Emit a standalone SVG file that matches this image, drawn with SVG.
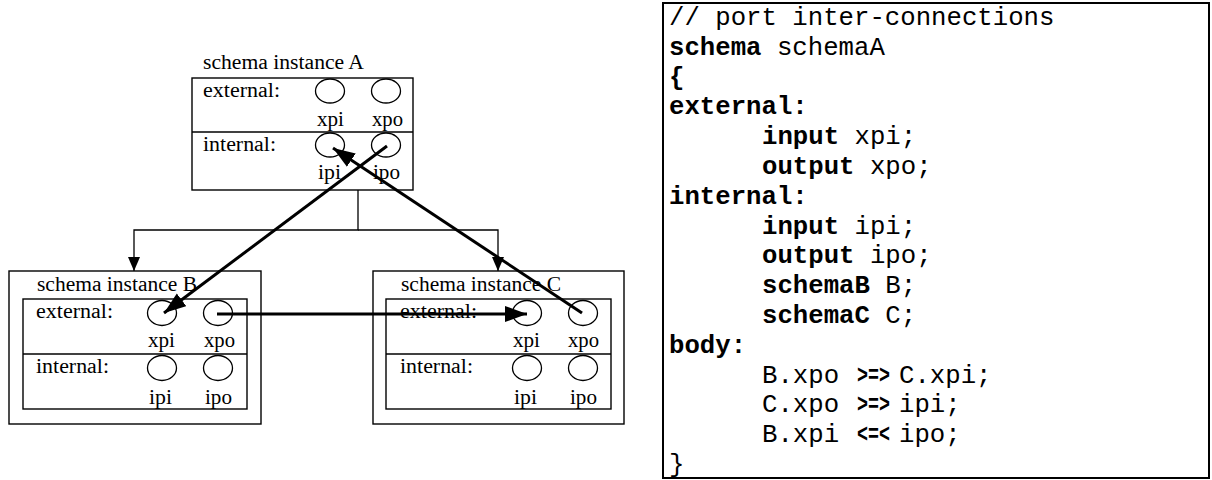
<svg xmlns="http://www.w3.org/2000/svg" width="1212" height="480" viewBox="0 0 1212 480">
<style>
.box{fill:none;stroke:#000;stroke-width:1.4}
.port{fill:none;stroke:#000;stroke-width:1.3}
.lbl{font-family:"Liberation Serif","Times New Roman",serif;font-size:20px;fill:#000}
.thin{fill:none;stroke:#000;stroke-width:1.3}
.thick{fill:none;stroke:#000;stroke-width:3}
.code{font-family:"Liberation Mono","Courier New",monospace;font-size:25.7px;fill:#000;white-space:pre}
.b{font-weight:bold}
</style>
<defs>
<marker id="ah" markerUnits="userSpaceOnUse" markerWidth="14" markerHeight="12" refX="14" refY="6" orient="auto">
<path d="M0,0 L14,6 L0,12 z" fill="#000"/>
</marker>
<marker id="ahT" markerUnits="userSpaceOnUse" markerWidth="24" markerHeight="18" refX="22" refY="8" orient="auto">
<path d="M0,0 L22,8 L0,16 z" fill="#000"/>
</marker>
</defs>
<rect width="1212" height="480" fill="#fff"/>

<g id="nodeA">
<text class="lbl" x="203" y="69" textLength="161" lengthAdjust="spacingAndGlyphs">schema instance A</text>
<rect class="box" x="192" y="78" width="221" height="112"/>
<line class="box" x1="192" y1="132" x2="413" y2="132"/>
<text class="lbl" x="203" y="97" textLength="77" lengthAdjust="spacingAndGlyphs">external:</text>
<ellipse class="port" cx="330" cy="91" rx="14.5" ry="12"/>
<ellipse class="port" cx="386" cy="91" rx="14.5" ry="12"/>
<text class="lbl" x="317" y="126" textLength="27" lengthAdjust="spacingAndGlyphs">xpi</text>
<text class="lbl" x="372" y="126" textLength="31" lengthAdjust="spacingAndGlyphs">xpo</text>
<text class="lbl" x="203" y="151" textLength="73" lengthAdjust="spacingAndGlyphs">internal:</text>
<ellipse class="port" cx="330" cy="145" rx="14.5" ry="12"/>
<ellipse class="port" cx="386" cy="145" rx="14.5" ry="12"/>
<text class="lbl" x="318" y="179" textLength="23" lengthAdjust="spacingAndGlyphs">ipi</text>
<text class="lbl" x="373" y="179" textLength="27" lengthAdjust="spacingAndGlyphs">ipo</text>
</g>

<g id="nodeB">
<rect class="box" x="9" y="271" width="252" height="153"/>
<text class="lbl" x="37" y="291" textLength="160" lengthAdjust="spacingAndGlyphs">schema instance B</text>
<rect class="box" x="23" y="299" width="224" height="110"/>
<line class="box" x1="23" y1="354" x2="247" y2="354"/>
<text class="lbl" x="36" y="318" textLength="77" lengthAdjust="spacingAndGlyphs">external:</text>
<ellipse class="port" cx="162" cy="313" rx="14.5" ry="12.5"/>
<ellipse class="port" cx="218" cy="313" rx="14.5" ry="12.5"/>
<text class="lbl" x="148" y="347" textLength="27" lengthAdjust="spacingAndGlyphs">xpi</text>
<text class="lbl" x="204" y="347" textLength="31" lengthAdjust="spacingAndGlyphs">xpo</text>
<text class="lbl" x="36" y="373" textLength="73" lengthAdjust="spacingAndGlyphs">internal:</text>
<ellipse class="port" cx="162" cy="368" rx="14.5" ry="12.5"/>
<ellipse class="port" cx="218" cy="368" rx="14.5" ry="12.5"/>
<text class="lbl" x="149" y="404" textLength="23" lengthAdjust="spacingAndGlyphs">ipi</text>
<text class="lbl" x="205" y="404" textLength="27" lengthAdjust="spacingAndGlyphs">ipo</text>
</g>

<g id="nodeC">
<rect class="box" x="373" y="271" width="251" height="153"/>
<text class="lbl" x="401" y="291" textLength="160" lengthAdjust="spacingAndGlyphs">schema instance C</text>
<rect class="box" x="386" y="299" width="225" height="110"/>
<line class="box" x1="386" y1="354" x2="611" y2="354"/>
<text class="lbl" x="400" y="318" textLength="77" lengthAdjust="spacingAndGlyphs">external:</text>
<ellipse class="port" cx="527" cy="313" rx="14.5" ry="12.5"/>
<ellipse class="port" cx="583" cy="313" rx="14.5" ry="12.5"/>
<text class="lbl" x="513" y="347" textLength="27" lengthAdjust="spacingAndGlyphs">xpi</text>
<text class="lbl" x="568" y="347" textLength="31" lengthAdjust="spacingAndGlyphs">xpo</text>
<text class="lbl" x="400" y="373" textLength="73" lengthAdjust="spacingAndGlyphs">internal:</text>
<ellipse class="port" cx="527" cy="368" rx="14.5" ry="12.5"/>
<ellipse class="port" cx="583" cy="368" rx="14.5" ry="12.5"/>
<text class="lbl" x="514" y="404" textLength="23" lengthAdjust="spacingAndGlyphs">ipi</text>
<text class="lbl" x="570" y="404" textLength="27" lengthAdjust="spacingAndGlyphs">ipo</text>
</g>

<g id="connectors">
<path class="thin" d="M358,190 V230 H134 V271" marker-end="url(#ah)"/>
<path class="thin" d="M358,230 H498 V271" marker-end="url(#ah)"/>
<line class="thick" x1="387" y1="146" x2="164" y2="313" marker-end="url(#ahT)"/>
<line class="thick" x1="582" y1="313" x2="333" y2="148" marker-end="url(#ahT)"/>
<line class="thick" x1="217" y1="314" x2="527" y2="314" marker-end="url(#ahT)"/>
</g>

<g id="code">
<rect x="663" y="3" width="546" height="475" fill="#fff" stroke="#000" stroke-width="2"/>
<text class="code" x="669" y="25">// port inter-connections</text>
<text class="code" x="669" y="54.8"><tspan class="b">schema</tspan> schemaA</text>
<text class="code b" x="669" y="84.6">{</text>
<text class="code b" x="669" y="114.4">external:</text>
<text class="code" x="762" y="144.2"><tspan class="b">input</tspan> xpi;</text>
<text class="code" x="762" y="174"><tspan class="b">output</tspan> xpo;</text>
<text class="code b" x="669" y="203.8">internal:</text>
<text class="code" x="762" y="233.6"><tspan class="b">input</tspan> ipi;</text>
<text class="code" x="762" y="263.4"><tspan class="b">output</tspan> ipo;</text>
<text class="code" x="762" y="293.2"><tspan class="b">schemaB</tspan> B;</text>
<text class="code" x="762" y="323"><tspan class="b">schemaC</tspan> C;</text>
<text class="code b" x="669" y="352.8">body:</text>
<text class="code" x="762" y="382.6">B.xpo</text>
<text class="code b" x="857" y="382.6" textLength="33" lengthAdjust="spacingAndGlyphs">&gt;=&gt;</text>
<text class="code" x="899" y="382.6">C.xpi;</text>
<text class="code" x="762" y="412.4">C.xpo</text>
<text class="code b" x="857" y="412.4" textLength="33" lengthAdjust="spacingAndGlyphs">&gt;=&gt;</text>
<text class="code" x="899" y="412.4">ipi;</text>
<text class="code" x="762" y="442.2">B.xpi</text>
<text class="code b" x="857" y="442.2" textLength="33" lengthAdjust="spacingAndGlyphs">&lt;=&lt;</text>
<text class="code" x="899" y="442.2">ipo;</text>
<text class="code" x="669" y="472">}</text>
</g>
</svg>
